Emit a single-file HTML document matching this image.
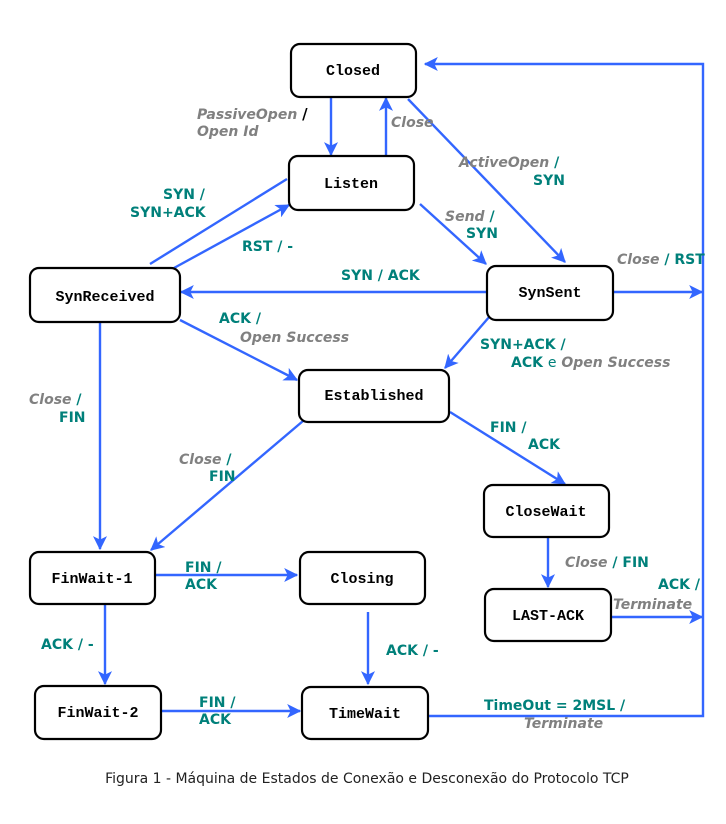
<!DOCTYPE html>
<html><head><style>
body{margin:0;background:#fff;}
.b{font-family:"Liberation Mono",monospace;font-weight:bold;font-size:15px;fill:#000;}
.t{font-family:"DejaVu Sans",Verdana,sans-serif;font-weight:bold;font-size:14px;fill:#00807a;}
.g{font-family:"DejaVu Sans",Verdana,sans-serif;font-weight:bold;font-style:italic;font-size:14px;fill:#808080;}
.k{font-family:"DejaVu Sans",Verdana,sans-serif;font-weight:bold;font-size:15px;fill:#000;}
.c{font-family:"DejaVu Sans",Verdana,sans-serif;font-size:14px;fill:#222;}
</style></head><body>
<svg width="726" height="819" xmlns="http://www.w3.org/2000/svg">
<defs><marker id="a" viewBox="0 0 12 12" refX="11" refY="6" markerWidth="14" markerHeight="14" markerUnits="userSpaceOnUse" orient="auto"><path d="M0,0 L12,6 L0,12 L3,6 z" fill="#3366ff"/></marker></defs>
<g stroke="#3366ff" stroke-width="2.4" fill="none">
<line x1="331" y1="97" x2="331" y2="155" marker-end="url(#a)"/>
<line x1="386" y1="156" x2="386" y2="98" marker-end="url(#a)"/>
<line x1="408" y1="99" x2="565" y2="262" marker-end="url(#a)"/>
<line x1="420" y1="204" x2="486" y2="264" marker-end="url(#a)"/>
<line x1="287" y1="179" x2="150" y2="264"/>
<line x1="174" y1="268" x2="289" y2="205" marker-end="url(#a)"/>
<line x1="487" y1="292" x2="181" y2="292" marker-end="url(#a)"/>
<line x1="490" y1="316" x2="445" y2="368" marker-end="url(#a)"/>
<line x1="180" y1="320" x2="297" y2="380" marker-end="url(#a)"/>
<line x1="100" y1="322" x2="100" y2="549" marker-end="url(#a)"/>
<line x1="303" y1="421" x2="151" y2="550" marker-end="url(#a)"/>
<line x1="450" y1="412" x2="565" y2="484" marker-end="url(#a)"/>
<line x1="548" y1="537" x2="548" y2="587" marker-end="url(#a)"/>
<line x1="611" y1="617" x2="702" y2="617" marker-end="url(#a)"/>
<line x1="155" y1="575" x2="297" y2="575" marker-end="url(#a)"/>
<line x1="105" y1="604" x2="105" y2="684" marker-end="url(#a)"/>
<line x1="368" y1="612" x2="368" y2="684" marker-end="url(#a)"/>
<line x1="161" y1="711" x2="300" y2="711" marker-end="url(#a)"/>
<line x1="613" y1="292" x2="702" y2="292" marker-end="url(#a)"/>
<polyline points="428,716 703,716 703,64 425,64" marker-end="url(#a)"/>
</g>
<g stroke="#000" stroke-width="2.2" fill="#fff">
<rect x="291" y="44" width="125" height="53" rx="9"/>
<rect x="289" y="156" width="125" height="54" rx="9"/>
<rect x="30" y="268" width="150" height="54" rx="9"/>
<rect x="487" y="266" width="126" height="54" rx="9"/>
<rect x="299" y="370" width="150" height="52" rx="9"/>
<rect x="484" y="485" width="125" height="52" rx="9"/>
<rect x="485" y="589" width="126" height="52" rx="9"/>
<rect x="30" y="552" width="125" height="52" rx="9"/>
<rect x="300" y="552" width="125" height="52" rx="9"/>
<rect x="35" y="686" width="126" height="53" rx="9"/>
<rect x="302" y="687" width="126" height="52" rx="9"/>
</g>
<g class="b" text-anchor="middle">
<text x="353" y="75">Closed</text>
<text x="351" y="188">Listen</text>
<text x="105" y="301">SynReceived</text>
<text x="550" y="297">SynSent</text>
<text x="374" y="400">Established</text>
<text x="546" y="516">CloseWait</text>
<text x="548" y="620">LAST-ACK</text>
<text x="92" y="583">FinWait-1</text>
<text x="362" y="583">Closing</text>
<text x="98" y="717">FinWait-2</text>
<text x="365" y="718">TimeWait</text>
</g>
<text class="g" x="197" y="119">PassiveOpen <tspan class="k" font-style="normal" fill="#000">/</tspan></text>
<text class="g" x="197" y="136">Open Id</text>
<text class="g" x="391" y="127">Close</text>
<text class="g" x="459" y="167">ActiveOpen <tspan fill="#00807a" font-style="normal">/</tspan></text>
<text class="t" x="533" y="185">SYN</text>
<text class="t" x="163" y="199">SYN /</text>
<text class="t" x="130" y="217">SYN+ACK</text>
<text class="t" x="242" y="251">RST / -</text>
<text class="g" x="445" y="221">Send <tspan fill="#00807a" font-style="normal">/</tspan></text>
<text class="t" x="466" y="238">SYN</text>
<text class="g" x="617" y="264">Close <tspan fill="#00807a" font-style="normal">/ RST</tspan></text>
<text class="t" x="341" y="280">SYN / ACK</text>
<text class="t" x="219" y="323">ACK /</text>
<text class="g" x="240" y="342">Open Success</text>
<text class="t" x="480" y="349">SYN+ACK /</text>
<text class="t" x="511" y="367">ACK <tspan font-weight="normal">e</tspan> <tspan class="g">Open Success</tspan></text>
<text class="g" x="29" y="404">Close <tspan fill="#00807a" font-style="normal">/</tspan></text>
<text class="t" x="59" y="422">FIN</text>
<text class="t" x="490" y="432">FIN /</text>
<text class="t" x="528" y="449">ACK</text>
<text class="g" x="179" y="464">Close <tspan fill="#00807a" font-style="normal">/</tspan></text>
<text class="t" x="209" y="481">FIN</text>
<text class="g" x="565" y="567">Close <tspan fill="#00807a" font-style="normal">/ FIN</tspan></text>
<text class="t" x="185" y="572">FIN /</text>
<text class="t" x="185" y="589">ACK</text>
<text class="t" x="658" y="589">ACK /</text>
<text class="g" x="613" y="609">Terminate</text>
<text class="t" x="41" y="649">ACK / -</text>
<text class="t" x="386" y="655">ACK / -</text>
<text class="t" x="199" y="707">FIN /</text>
<text class="t" x="199" y="724">ACK</text>
<text class="t" x="484" y="710">TimeOut = 2MSL /</text>
<text class="g" x="524" y="728">Terminate</text>
<text class="c" x="367" y="783" text-anchor="middle">Figura 1 - Máquina de Estados de Conexão e Desconexão do Protocolo TCP</text>
</svg>
</body></html>
